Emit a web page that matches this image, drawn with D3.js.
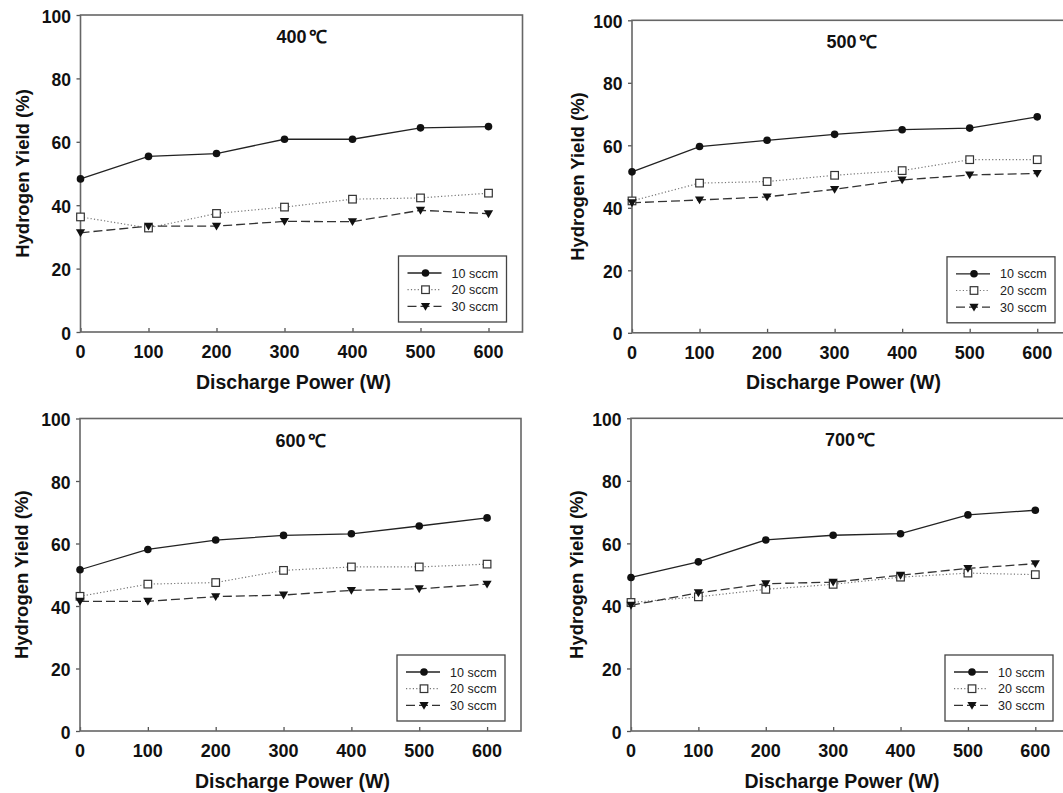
<!DOCTYPE html>
<html><head><meta charset="utf-8">
<script src="https://cdn.jsdelivr.net/npm/d3@7"></script>
<style>body{margin:0;background:#fff}svg{display:block}text{font-family:"Liberation Sans",Arial,sans-serif}</style>
</head><body>
<svg id="c" width="1063" height="793"></svg>
<script>
const powers = [0,100,200,300,400,500,600];
const xTicks = [0,100,200,300,400,500,600];
const yTicks = [0,20,40,60,80,100];
const seriesNames = ["10 sccm","20 sccm","30 sccm"];
const temps = ["400℃","500℃","600℃","700℃"];
const t400_10 = [48.3,55.4,56.3,60.8,60.8,64.4,64.8];
const t400_20 = [36.3,32.8,37.4,39.4,41.9,42.3,43.8];
const t400_30 = [31.3,33.4,33.4,34.9,34.8,38.4,37.3];
const t500_10 = [51.5,59.6,61.6,63.5,65.0,65.5,69.1];
const t500_20 = [42.2,47.9,48.4,50.4,51.9,55.4,55.4];
const t500_30 = [41.6,42.5,43.5,45.9,48.9,50.5,51.0];
const t600_10 = [51.6,58.1,61.1,62.6,63.1,65.6,68.2];
const t600_20 = [43.1,47.0,47.5,51.4,52.5,52.5,53.4];
const t600_30 = [41.5,41.5,43.0,43.5,45.0,45.5,47.0];
const t700_10 = [49.1,54.1,61.1,62.6,63.1,69.1,70.6];
const t700_20 = [41.1,42.9,45.3,46.9,49.2,50.5,50.0];
const t700_30 = [40.2,44.2,47.1,47.6,49.8,52.0,53.5];
const panelData = [
  [t400_10,t400_20,t400_30],
  [t500_10,t500_20,t500_30],
  [t600_10,t600_20,t600_30],
  [t700_10,t700_20,t700_30]
];
const xTitle = "Discharge Power (W)";
const yTitle = "Hydrogen Yield (%)";

const layout = [
  {l:80.5, t:15,   b:332,   w:442, ty:52},
  {l:632,  t:20.3, b:332.8, w:439, ty:48},
  {l:80,   t:418.5,b:731,   w:441, ty:52},
  {l:631,  t:418.3,b:731,   w:438, ty:48}
];
const styles = [
  {dash:null, stroke:"#222", sw:1.3},
  {dash:"1.2,2.2", stroke:"#777", sw:1.2},
  {dash:"9,4", stroke:"#333", sw:1.3}
];
const svg = d3.select("#c");

function sText(g, x, y, str, size, anchor, bold){
  return g.append("text").attr("x",x).attr("y",y)
    .attr("text-anchor",anchor).attr("font-size",size)
    .attr("font-weight",bold?"bold":"normal").attr("fill","#111").text(str);
}

function marker(g, k, x, y){
  if(k===0){ g.append("circle").attr("cx",x).attr("cy",y).attr("r",3.8).attr("fill","#111"); }
  else if(k===1){ g.append("rect").attr("x",x-3.8).attr("y",y-3.8).attr("width",7.6).attr("height",7.6)
      .attr("fill","#fff").attr("stroke","#333").attr("stroke-width",1.2); }
  else { const s=4.6; g.append("path").attr("d",`M${x-s},${y-s*0.75}L${x+s},${y-s*0.75}L${x},${y+s*0.95}Z`).attr("fill","#111"); }
}

panelData.forEach((series, pi) => {
  const L = layout[pi];
  const x = d3.scaleLinear().domain([0,650]).range([L.l, L.l+L.w]);
  const y = d3.scaleLinear().domain([0,100]).range([L.b, L.t]);
  const g = svg.append("g");
  // y axis ticks
  const ya = g.append("g").attr("transform",`translate(${L.l},0)`)
    .call(d3.axisLeft(y).tickValues(yTicks).tickSize(4).tickFormat(""));
  ya.select(".domain").remove();
  ya.selectAll("line").attr("stroke","#555").attr("stroke-width",1.3);
  yTicks.forEach(v => sText(g, L.l-9.5, y(v)+7.5, d3.format("d")(v), 17.5, "end", true));
  // x axis ticks
  const xa = g.append("g").attr("transform",`translate(0,${L.b})`)
    .call(d3.axisBottom(x).tickValues(xTicks).tickSize(-4).tickFormat(""));
  xa.select(".domain").remove();
  xa.selectAll("line").attr("stroke","#555").attr("stroke-width",1.3);
  xTicks.forEach(v => sText(g, x(v), L.b+26, d3.format("d")(v), 18, "middle", true));
  // frame
  g.append("rect").attr("x",L.l).attr("y",L.t).attr("width",L.w).attr("height",L.b-L.t)
    .attr("fill","none").attr("stroke","#666").attr("stroke-width",1.6);
  // panel title
  const tt = sText(g, x(325), L.t+28, "", 18, "middle", true);
  tt.append("tspan").text(temps[pi].slice(0,-1));
  tt.append("tspan").attr("dx",2).text(temps[pi].slice(-1));
  // axis titles
  sText(g, x(325)-8, L.b+56.5, xTitle, 19.5, "middle", true);
  g.append("text").attr("transform",`translate(${L.l-L.ty},${(L.t+L.b)/2}) rotate(-90)`)
    .attr("text-anchor","middle").attr("font-size",18.5).attr("font-weight","bold").attr("fill","#111").text(yTitle);
  // series
  series.forEach((vals, k) => {
    const st = styles[k];
    const line = d3.line().x((d,i)=>x(powers[i])).y(d=>y(d));
    g.append("path").datum(vals).attr("d",line).attr("fill","none")
      .attr("stroke",st.stroke).attr("stroke-width",st.sw).attr("stroke-dasharray",st.dash);
  });
  series.forEach((vals, k) => {
    vals.forEach((v,i)=> marker(g, k, x(powers[i]), y(v)));
  });
  // legend
  const lw=108, lh=66;
  const lx = L.l + L.w - 16 - lw, ly = L.b - 10 - lh;
  const lg = g.append("g");
  lg.append("rect").attr("x",lx).attr("y",ly).attr("width",lw).attr("height",lh)
    .attr("fill","#fff").attr("stroke","#444").attr("stroke-width",1.3);
  seriesNames.forEach((nm,k)=>{
    const ry = ly + 17 + k*16.7;
    const st = styles[k];
    lg.append("line").attr("x1",lx+9).attr("x2",lx+43).attr("y1",ry).attr("y2",ry)
      .attr("stroke",st.stroke).attr("stroke-width",st.sw).attr("stroke-dasharray",st.dash);
    marker(lg, k, lx+27, ry);
    sText(lg, lx+53, ry+4.5, nm, 12.5, "start", false).attr("fill","#222");
  });
});
</script>
</body></html>
